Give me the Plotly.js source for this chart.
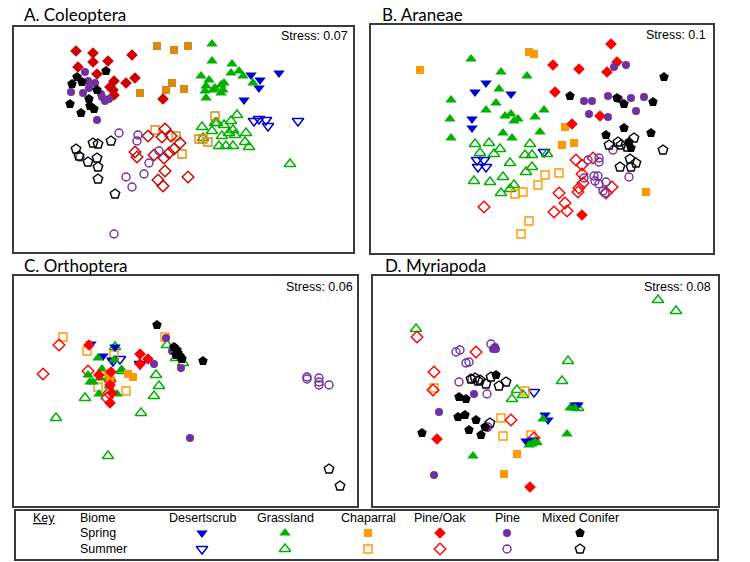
<!DOCTYPE html>
<html><head><meta charset="utf-8">
<script src="https://cdn.plot.ly/plotly-3.0.1.min.js"></script>
<style>html,body{margin:0;padding:0;background:#fff}#chart{width:750px;height:562px}</style>
</head><body><div id="chart"></div>
<script>
// ---------- categories ----------
const biomes = ["Desertscrub","Grassland","Chaparral","Pine/Oak","Pine","Mixed Conifer"];
const seasons = ["Spring","Summer"];
const panelTitles = ["A. Coleoptera","B. Araneae","C. Orthoptera","D. Myriapoda"];
const stressValues = ["0.07","0.1","0.06","0.08"];

// ---------- NMDS scores (axis 1, axis 2) ----------
// A. Coleoptera
const A_DS_sp = [[237,177],[246,172],[245,164],[265,179],[230,152]];
const A_DS_su = [[240,131],[245,133],[252,132],[254,126],[284,131]];
const A_GR_sp = [[198,208],[198,191],[218,188],[217,179],[225,181],[229,176],[187,176],[195,172],[192,166],[201,164],[207,167],[210,169],[191,161],[192,154],[207,159],[209,162],[239,169],[199,162]];
const A_GR_su = [[223,137],[188,125],[201,129],[203,129],[210,127],[217,131],[198,121],[219,122],[215,119],[221,117],[232,119],[208,116],[231,110],[205,106],[212,106],[219,106],[235,105],[276,88],[189,114]];
const A_CH_sp = [[143,206],[160,202],[174,206],[158,169],[152,162],[170,163],[126,159]];
const A_CH_su = [[141,122],[162,116],[168,98],[201,136],[185,113],[189,113],[194,110]];
const A_PO_sp = [[62,201],[79,199],[79,190],[94,191],[118,197],[64,185],[83,178],[100,171],[121,174],[112,169],[96,165],[99,162],[100,157],[149,153]];
const A_PO_su = [[151,123],[148,115],[157,116],[134,116],[121,100],[123,95],[140,97],[150,94],[155,99],[160,103],[166,109],[151,81],[144,72],[149,66],[174,75]];
const A_PI_sp = [[71,180],[74,171],[81,169],[57,160],[69,159],[75,164],[87,158],[88,155],[95,153],[91,151],[83,132]];
const A_PI_su = [[105,119],[124,117],[123,111],[66,95],[145,101],[135,89],[130,78],[112,75],[118,65],[100,18]];
const A_MC_sp = [[92,181],[63,175],[68,170],[58,168],[83,162],[75,153],[56,148],[76,146],[80,143],[67,139]];
const A_MC_su = [[62,103],[65,96],[79,109],[84,108],[97,111],[74,90],[83,94],[84,85],[84,73],[101,58]];

// B. Araneae
const B_DS_sp = [[115,170],[104,161],[140,159],[101,134],[101,125]];
const B_DS_su = [[106,93],[113,93],[107,86],[115,86],[173,101]];
const B_GR_sp = [[100,194],[130,181],[156,177],[80,153],[128,164],[125,150],[115,143],[173,143],[79,134],[134,137],[140,139],[143,132],[147,134],[164,136],[80,115],[132,120],[141,115],[169,121]];
const B_GR_su = [[104,109],[118,110],[109,100],[123,99],[129,104],[159,109],[154,98],[161,98],[176,99],[139,90],[161,86],[155,81],[103,72],[119,71],[132,76],[143,68],[139,64],[130,60]];
const B_CH_sp = [[49,183],[158,201],[163,199],[194,126],[203,110],[191,108],[275,61]];
const B_CH_su = [[174,78],[167,68],[152,61],[144,59],[158,32],[150,19],[188,80]];
const B_PO_sp = [[240,209],[182,188],[208,184],[246,191],[236,181],[184,161],[229,137],[201,129],[211,38]];
const B_PO_su = [[113,46],[183,41],[205,93],[211,88],[222,95],[211,79],[212,70],[208,65],[207,61],[241,66],[235,60],[188,60],[194,50],[196,42]];
const B_PI_sp = [[243,186],[255,188],[213,152],[221,152],[237,157],[260,155],[273,156],[218,139],[237,136],[265,142],[248,154]];
const B_PI_su = [[242,103],[217,93],[228,95],[228,91],[223,77],[227,77],[213,75],[224,72],[228,69],[235,71],[232,62],[258,76],[234,60]];
const B_MC_sp = [[293,176],[199,157],[246,155],[253,149],[282,151],[253,125],[280,120],[235,118],[258,111],[260,105]];
const B_MC_su = [[238,108],[247,111],[250,108],[263,115],[292,103],[249,86],[259,94],[260,86],[265,90],[256,106]];

// C. Orthoptera
const C_DS_sp = [[77,162],[89,150],[101,159],[98,146]];
const C_DS_su = [[106,147],[126,142],[99,145]];
const C_GR_sp = [[84,148],[88,137],[74,131],[76,124],[79,124],[86,128],[107,136],[100,146],[85,112],[103,112],[95,120],[96,130]];
const C_GR_su = [[153,161],[162,148],[169,143],[142,131],[145,120],[140,110],[127,93],[71,108],[42,88],[94,50],[108,135],[101,159]];
const C_CH_sp = [[114,132],[119,129],[95,133],[96,128]];
const C_CH_su = [[49,169],[73,155],[151,169],[100,151],[84,119],[112,115],[95,131]];
const C_PO_sp = [[75,161],[126,152],[134,147],[126,142],[85,131],[97,134],[96,121],[98,113],[96,103]];
const C_PO_su = [[45,161],[29,132],[74,135],[93,108],[95,113],[96,125]];
const C_PI_sp = [[152,168],[158,155],[140,142],[167,138],[176,68]];
const C_PI_su = [[293,129],[293,127],[305,128],[305,124],[305,121],[315,121]];
const C_MC_sp = [[143,181],[160,159],[163,156],[164,153],[166,150],[167,148],[162,151],[168,147],[189,145]];
const C_MC_su = [[315,37],[326,20]];

// D. Myriapoda
const D_DS_sp = [[172,91],[175,86],[153,65],[160,66],[202,101],[205,101]];
const D_DS_su = [[161,114]];
const D_GR_sp = [[100,50],[170,87],[156,61],[159,62],[162,64],[197,98],[194,72],[202,98]];
const D_GR_su = [[43,177],[144,116],[150,111],[139,107],[163,64],[285,206],[303,195],[195,145],[189,125],[205,98]];
const D_CH_sp = [[144,52],[131,32]];
const D_CH_su = [[61,118],[152,115],[128,88],[130,70],[158,71]];
const D_PO_sp = [[64,67],[157,19]];
const D_PO_su = [[44,169],[103,154],[61,134],[60,116],[138,86],[161,68]];
const D_PI_sp = [[120,157],[123,157],[122,159],[101,112],[66,94],[61,31],[114,78]];
const D_PI_su = [[83,154],[87,156],[93,143],[96,144],[118,162],[86,124],[114,112],[115,79],[99,127]];
const D_MC_sp = [[123,131],[86,109],[93,107],[85,89],[92,91],[103,86],[96,76],[108,71],[112,79],[49,73]];
const D_MC_su = [[98,127],[102,128],[107,126],[113,122],[118,129],[126,120],[133,124],[117,83],[105,125]];

// ---------- styles / layout ----------
const W = 750, H = 562;
const symbols = ["triangle-down","triangle-up","square","diamond","circle","pentagon"];
const sizes = [10,10,8,9,8,10];
const colorsDefault = ["#0000cc","#00b000","#ff9900","#ff0000","#7030a0","#000000"];
const colorsA = ["#0000cc","#00b000","#d98a10","#cc0000","#7030a0","#000000"];

const panelGroups = [
  [[A_DS_sp,A_DS_su],[A_GR_sp,A_GR_su],[A_CH_sp,A_CH_su],[A_PO_sp,A_PO_su],[A_PI_sp,A_PI_su],[A_MC_sp,A_MC_su]],
  [[B_DS_sp,B_DS_su],[B_GR_sp,B_GR_su],[B_CH_sp,B_CH_su],[B_PO_sp,B_PO_su],[B_PI_sp,B_PI_su],[B_MC_sp,B_MC_su]],
  [[C_DS_sp,C_DS_su],[C_GR_sp,C_GR_su],[C_CH_sp,C_CH_su],[C_PO_sp,C_PO_su],[C_PI_sp,C_PI_su],[C_MC_sp,C_MC_su]],
  [[D_DS_sp,D_DS_su],[D_GR_sp,D_GR_su],[D_CH_sp,D_CH_su],[D_PO_sp,D_PO_su],[D_PI_sp,D_PI_su],[D_MC_sp,D_MC_su]]
];
// panel frames in pixels: left, top, right, bottom
const frames = [[14,27,353,252],[371,25,713,253],[14,276,357,506],[373,276,718,506]];
const titlePos = [[22,15],[380,15],[22,266],[383,266]];
const stressPos = [[350,36],[708,35],[355,287],[713,287]];

const traces = [];
const layout = {
  width: W, height: H,
  margin: {l:0,r:0,t:0,b:0},
  paper_bgcolor: "#ffffff", plot_bgcolor: "rgba(0,0,0,0)",
  showlegend: false,
  annotations: [], shapes: [],
  font: {family: "Liberation Sans, Arial, sans-serif", color: "#000"}
};

panelGroups.forEach((groups, p) => {
  const k = p === 0 ? "" : String(p+1);
  const [l,t,r,b] = frames[p];
  const axStyle = {showline:true, mirror:true, linecolor:"#3a3a3a", linewidth:2,
    showgrid:false, zeroline:false, showticklabels:false, ticks:"", fixedrange:true};
  layout["xaxis"+k] = Object.assign({}, axStyle, {domain:[l/W, r/W], range:[0, r-l], anchor:"y"+k});
  layout["yaxis"+k] = Object.assign({}, axStyle, {domain:[1-b/H, 1-t/H], range:[0, b-t], anchor:"x"+k});
  const cols = p === 0 ? colorsA : colorsDefault;
  // draw summer (open) first, then spring (filled)
  [1,0].forEach(s => {
    groups.forEach((pair, g) => {
      const pts = pair[s];
      traces.push({
        type:"scatter", mode:"markers", xaxis:"x"+k, yaxis:"y"+k,
        name: biomes[g]+" "+seasons[s],
        x: pts.map(d=>d[0]), y: pts.map(d=>d[1]),
        marker: {symbol: symbols[g] + (s===1 ? "-open" : ""), size: sizes[g],
          color: cols[g], line: {color: cols[g], width: s===1 ? 1.4 : 0}},
        hoverinfo:"skip"
      });
    });
  });
  layout.annotations.push({xref:"paper", yref:"paper", x:titlePos[p][0]/W, y:1-titlePos[p][1]/H,
    xanchor:"left", yanchor:"middle", showarrow:false, text: panelTitles[p],
    font:{family:"Lato, Open Sans, sans-serif", size:17, color:"#000"}});
  layout.annotations.push({xref:"paper", yref:"paper", x:stressPos[p][0]/W, y:1-stressPos[p][1]/H,
    xanchor:"right", yanchor:"middle", showarrow:false, text: "Stress: "+stressValues[p],
    font:{family:"Liberation Sans, Arial, sans-serif", size:12.5, color:"#000"}});
});

// ---------- key box (pixel-space overlay axis) ----------
layout.xaxis5 = {domain:[0,1], range:[0,W], visible:false, fixedrange:true, anchor:"y5"};
layout.yaxis5 = {domain:[0,1], range:[H,0], visible:false, fixedrange:true, anchor:"x5"};
const keyCols = [202, 285, 368, 440, 507, 580];
const keyRows = [518, 533, 549];
layout.shapes.push({type:"rect", xref:"x5", yref:"y5", x0:15, x1:718, y0:510, y1:560,
  line:{color:"#3a3a3a", width:2}, fillcolor:"rgba(0,0,0,0)"});
const keyFont = {family:"Liberation Sans, Arial, sans-serif", size:12.5, color:"#000"};
layout.annotations.push({xref:"x5", yref:"y5", x:31, y:keyRows[0], xanchor:"left", yanchor:"middle",
  showarrow:false, text:"<u>Key</u>", font:keyFont});
["Biome"].concat(seasons).forEach((txt,i) => {
  layout.annotations.push({xref:"x5", yref:"y5", x:78, y:keyRows[i], xanchor:"left", yanchor:"middle",
    showarrow:false, text:txt, font:keyFont});
});
biomes.forEach((bn,g) => {
  layout.annotations.push({xref:"x5", yref:"y5", x:keyCols[g], y:keyRows[0], xanchor:"center", yanchor:"middle",
    showarrow:false, text:bn, font:keyFont});
  [0,1].forEach(s => {
    traces.push({type:"scatter", mode:"markers", xaxis:"x5", yaxis:"y5",
      x:[keyCols[g]], y:[keyRows[s+1]], hoverinfo:"skip",
      marker:{symbol: symbols[g] + (s===1 ? "-open" : ""), size: sizes[g],
        color: colorsDefault[g], line:{color: colorsDefault[g], width: s===1 ? 1.4 : 0}}});
  });
});

Plotly.newPlot("chart", traces, layout, {staticPlot:true, displayModeBar:false});
</script>
</body></html>
